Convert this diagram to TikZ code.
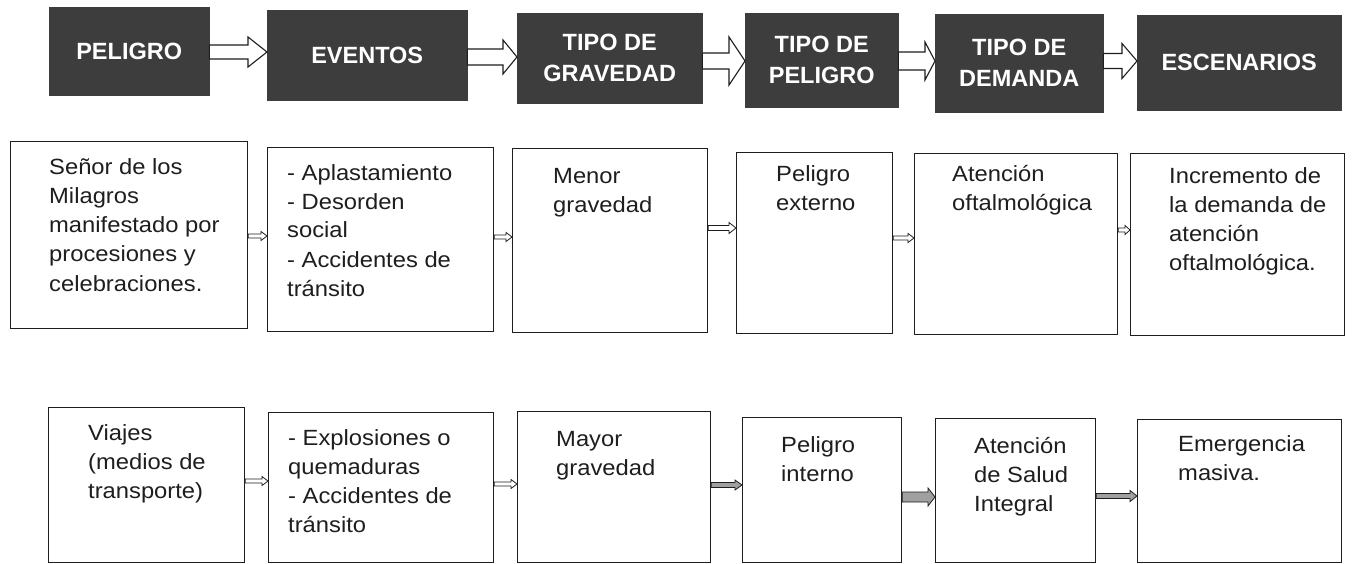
\documentclass[tikz,border=0pt]{standalone}
\usepackage{fontspec}
\setmainfont{Liberation Sans}
\newfontfamily\bodyfont{Liberation Sans}[FakeStretch=1.08]
\usetikzlibrary{calc}
\definecolor{hdr}{HTML}{3D3D3D}
\definecolor{ink}{HTML}{1E1E1E}
\definecolor{agray}{HTML}{A0A0A0}
% block arrow from node #1 to node #2 at height #3; shaft half #4, head half #5, head length #6, style #7
\newcommand\barrow[7]{%
  \coordinate (bs) at (#1.east |- 0,#3);
  \coordinate (be) at (#2.west |- 0,#3);
  \draw[#7] ($(bs)+(0,#4)$) -- ($(be)+(-#6,#4)$) -- ($(be)+(-#6,#5)$) -- (be)
    -- ($(be)+(-#6,-#5)$) -- ($(be)+(-#6,-#4)$) -- ($(bs)+(0,-#4)$) -- cycle;}
\newcommand\btext[1]{\parbox[t]{300pt}{\bodyfont\fontsize{22}{29}\selectfont\raggedright #1}}
\begin{document}
\begin{tikzpicture}[x=1pt,y=-1pt,
  hbox/.style={fill=hdr, draw=hdr, text=white, font=\fontsize{23.5}{31}\selectfont\bfseries, align=center, anchor=north west, inner sep=0pt},
  wbox/.style={draw=ink, line width=1.1pt, fill=white, anchor=north west, inner sep=0pt},
  btxt/.style={anchor=base west, inner sep=0pt, text=ink},
  harr/.style={draw=ink, line width=1.1pt, fill=white, line join=miter},
  sarr/.style={draw=ink, line width=0.8pt, fill=white},
  garr/.style={draw=ink, line width=0.8pt, fill=agray}]
\useasboundingbox[fill=white] (0,0) rectangle (1356,564);

% header row
\node[hbox, minimum width=160pt, minimum height=88pt] (h1) at (49,7) {PELIGRO};
\node[hbox, minimum width=200pt, minimum height=90pt] (h2) at (267,10) {EVENTOS};
\node[hbox, minimum width=185pt, minimum height=90pt] (h3) at (517,13) {TIPO DE\\GRAVEDAD};
\node[hbox, minimum width=153pt, minimum height=94pt] (h4) at (745,13) {TIPO DE\\PELIGRO};
\node[hbox, minimum width=168pt, minimum height=98pt] (h5) at (935,14) {TIPO DE\\DEMANDA};
\node[hbox, minimum width=204pt, minimum height=95pt] (h6) at (1137,15) {ESCENARIOS};

\barrow{h1}{h2}{52}{7}{15}{19}{harr}
\barrow{h2}{h3}{57}{8}{17}{14}{harr}
\barrow{h3}{h4}{61}{8}{24}{16}{harr}
\barrow{h4}{h5}{61}{9}{19}{10}{harr}
\barrow{h5}{h6}{61}{7.5}{17.5}{15}{harr}

% first row of boxes
\node[wbox, minimum width=237pt, minimum height=187pt] (b1) at (10,141) {};
\node[wbox, minimum width=226pt, minimum height=184pt] (b2) at (267,147) {};
\node[wbox, minimum width=195pt, minimum height=184pt] (b3) at (512,148) {};
\node[wbox, minimum width=156pt, minimum height=181pt] (b4) at (736,152) {};
\node[wbox, minimum width=203pt, minimum height=181pt] (b5) at (914,153) {};
\node[wbox, minimum width=214pt, minimum height=182pt] (b6) at (1130,153) {};

\node[btxt] (tb1) at (49,175) {\btext{Señor de los\\Milagros\\manifestado por\\procesiones y\\celebraciones.}};
\node[btxt] (tb2) at (287,180) {\btext{- Aplastamiento\\- Desorden\\social\\- Accidentes de\\tránsito}};
\node[btxt] (tb3) at (553,183) {\btext{Menor\\gravedad}};
\node[btxt] (tb4) at (776,182) {\btext{Peligro\\externo}};
\node[btxt] (tb5) at (952,182) {\btext{Atención\\oftalmológica}};
\node[btxt] (tb6) at (1169,183) {\btext{Incremento de\\la demanda de\\atención\\oftalmológica.}};

\barrow{b1}{b2}{236}{2}{4.5}{6}{sarr}
\barrow{b2}{b3}{237}{2}{4.5}{6}{sarr}
\barrow{b3}{b4}{228}{2.5}{5.5}{7}{sarr}
\barrow{b4}{b5}{238}{2}{4.5}{6}{sarr}
\barrow{b5}{b6}{230}{2}{4.5}{5}{sarr}

% second row of boxes
\node[wbox, minimum width=196pt, minimum height=155pt] (c1) at (48,407) {};
\node[wbox, minimum width=225pt, minimum height=150pt] (c2) at (268,412) {};
\node[wbox, minimum width=193pt, minimum height=151pt] (c3) at (517,411) {};
\node[wbox, minimum width=159pt, minimum height=145pt] (c4) at (742,417) {};
\node[wbox, minimum width=160pt, minimum height=144pt] (c5) at (935,418) {};
\node[wbox, minimum width=204pt, minimum height=143pt] (c6) at (1137,419) {};

\node[btxt] (tc1) at (88,440) {\btext{Viajes\\(medios de\\transporte)}};
\node[btxt] (tc2) at (288,445) {\btext{- Explosiones o\\quemaduras\\- Accidentes de\\tránsito}};
\node[btxt] (tc3) at (556,446) {\btext{Mayor\\gravedad}};
\node[btxt] (tc4) at (781,452) {\btext{Peligro\\interno}};
\node[btxt] (tc5) at (974,453) {\btext{Atención\\de Salud\\Integral}};
\node[btxt] (tc6) at (1178,451) {\btext{Emergencia\\masiva.}};

\barrow{c1}{c2}{481}{2}{4.5}{6}{sarr}
\barrow{c2}{c3}{484}{2}{4.5}{6}{sarr}
\barrow{c3}{c4}{485}{2.5}{5}{7}{garr}
\barrow{c4}{c5}{497}{5}{9}{7}{garr}
\barrow{c5}{c6}{496}{2.5}{5.5}{7}{garr}
\end{tikzpicture}
\end{document}
